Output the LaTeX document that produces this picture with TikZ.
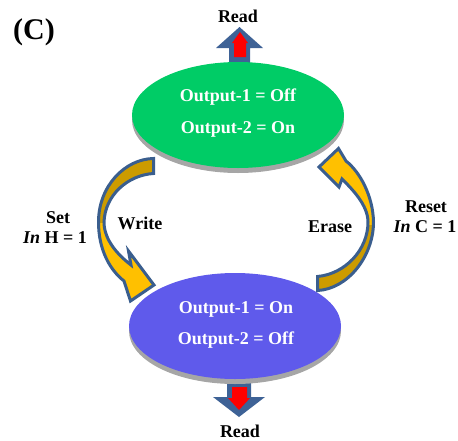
\documentclass[tikz,border=0pt]{standalone}
\usepackage{fontspec}
\setmainfont{Liberation Serif}
\usetikzlibrary{shapes.geometric}
\definecolor{greenfill}{RGB}{0,204,102}
\definecolor{bluefill}{RGB}{95,90,235}
\definecolor{shadowgray}{RGB}{166,166,166}
\definecolor{arrowblue}{RGB}{62,98,150}
\definecolor{outlineblue}{RGB}{58,94,142}
\definecolor{darkgold}{RGB}{204,155,0}
\definecolor{brightgold}{RGB}{255,192,0}
\newcommand\leftcurvepath{(153.5,158.5) .. controls (125,159) and (98.5,186) .. (98.5,222) .. controls (98.5,250) and (110,270) .. (124,281) -- (130.5,301) -- (154,285) -- (128.5,251) -- (131,265) .. controls (118,255) and (104,240) .. (104,222) .. controls (105,195) and (128,175) .. (153.5,173.5) -- cycle}
\newcommand\rightcurvepath{(317.5,290.5) .. controls (348,289) and (373.5,256) .. (373.5,222) .. controls (373,196) and (360,172) .. (346,161) -- (338.5,148.5) -- (319,167) -- (339,187) -- (342,179) .. controls (352,189) and (368,205) .. (368,222) .. controls (368,250) and (345,274) .. (317.5,276.5) -- cycle}
\begin{document}
\begin{tikzpicture}[x=1pt,y=-1pt,
  lbl/.style={font=\bfseries\fontsize{18}{20}\selectfont, inner sep=0pt},
  inlbl/.style={lbl, text=white},
  statebox/.style={ellipse, inner sep=0pt, minimum width=212pt, minimum height=106pt},
  curveline/.style={draw=outlineblue, line width=3pt, line join=miter}
]
\useasboundingbox (0,0) rectangle (458,440);

% read arrows (behind ellipses)
\fill[arrowblue] (229,75) -- (229,48) -- (216,48) -- (239.5,27) -- (263,48) -- (250,48) -- (250,75) -- cycle;
\fill[red] (234,57) -- (234,43) -- (232,43) -- (240,32) -- (248,43) -- (246,43) -- (246,57) -- cycle;
\fill[arrowblue] (227,360) -- (227,397) -- (213,397) -- (239,417) -- (265,397) -- (251,397) -- (251,360) -- cycle;
\fill[red] (232,387) -- (232,398) -- (228,398) -- (239,410) -- (250,398) -- (247,398) -- (247,387) -- cycle;

% states
\node[statebox, fill=shadowgray] (topshadow) at (238,120) {};
\node[statebox, fill=greenfill] (topstate) at (238,115) {};
\node[statebox, fill=shadowgray] (botshadow) at (235,331) {};
\node[statebox, fill=bluefill] (botstate) at (235,326) {};

\node[inlbl] (g1) at (238,97) {Output-1 = Off};
\node[inlbl] (g2) at (238,129) {Output-2 = On};
\node[inlbl] (b1) at (236,309) {Output-1 = On};
\node[inlbl] (b2) at (236,340) {Output-2 = Off};

% curved arrows
\fill[brightgold] \leftcurvepath;
\begin{scope}
  \clip (0,0) rectangle (458,222);
  \fill[darkgold] \leftcurvepath;
\end{scope}
\draw[curveline] \leftcurvepath;

\fill[brightgold] \rightcurvepath;
\begin{scope}
  \clip (0,225) rectangle (458,440);
  \fill[darkgold] \rightcurvepath;
\end{scope}
\draw[curveline] \rightcurvepath;

% labels
\node[lbl] (readtop) at (238,16) {Read};
\node[lbl] (readbot) at (240,431) {Read};
\node[lbl] (set) at (58,218) {Set};
\node[lbl] (inh) at (55,238) {\textit{In} H = 1};
\node[lbl] (write) at (140,223) {Write};
\node[lbl] (erase) at (330,227) {Erase};
\node[lbl] (reset) at (426,207) {Reset};
\node[lbl] (inc) at (425,227) {\textit{In} C = 1};
\node[font=\bfseries\fontsize{30}{32}\selectfont, inner sep=0pt] (panel) at (34,32) {(C)};
\end{tikzpicture}
\end{document}
